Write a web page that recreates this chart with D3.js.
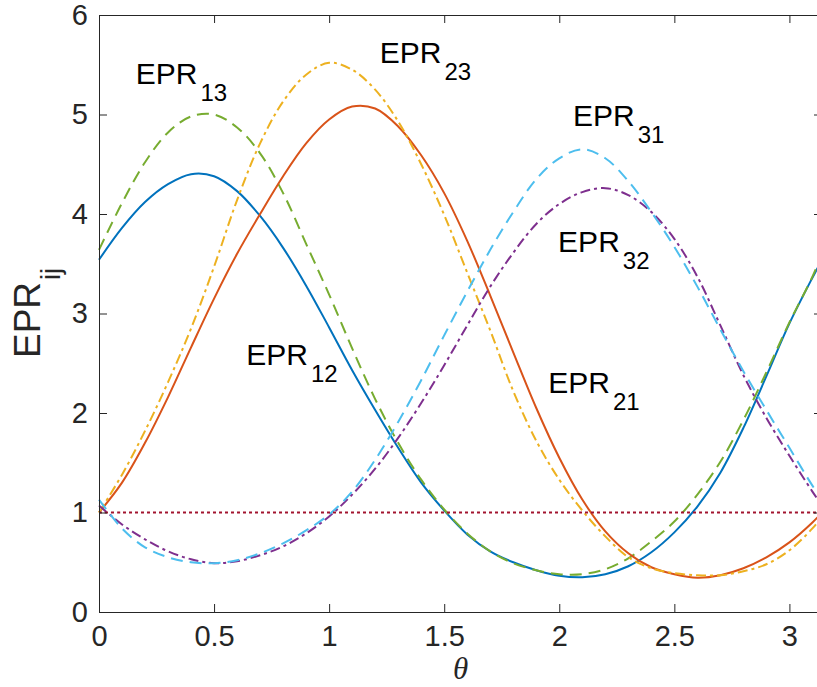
<!DOCTYPE html>
<html>
<head>
<meta charset="utf-8">
<script src="https://cdn.jsdelivr.net/npm/d3@7"></script>
<style>
  html, body { margin: 0; padding: 0; background: #fff; }
  svg { display: block; }
  text { font-family: "Liberation Sans", Arial, Helvetica, sans-serif; }
</style>
</head>
<body>
<svg id="chart" width="817" height="687"></svg>
<script>
// ---- data ----
const theta = [0,0.1,0.2,0.3,0.4,0.5,0.6,0.7,0.8,0.9,1.0,1.1,1.2,1.3,1.4,1.5,1.6,1.7,1.8,1.9,2.0,2.1,2.2,2.3,2.4,2.5,2.6,2.7,2.8,2.9,3.0,3.1,3.1416];

const epr12 = [3.54,3.86,4.12,4.30,4.40,4.38,4.23,3.98,3.66,3.28,2.86,2.43,2.03,1.65,1.30,1.02,0.78,0.61,0.50,0.42,0.365,0.35,0.38,0.46,0.60,0.80,1.06,1.40,1.85,2.37,2.90,3.36,3.54];
const epr13 = [3.64,4.11,4.52,4.82,4.98,5.00,4.87,4.61,4.21,3.70,3.19,2.65,2.14,1.70,1.33,1.03,0.79,0.61,0.49,0.42,0.38,0.38,0.43,0.54,0.71,0.91,1.18,1.51,1.93,2.41,2.91,3.37,3.60];
const epr21 = [1.00,1.30,1.70,2.16,2.66,3.15,3.60,4.00,4.38,4.71,4.95,5.08,5.06,4.88,4.59,4.21,3.73,3.18,2.61,2.05,1.55,1.13,0.81,0.59,0.45,0.38,0.345,0.37,0.44,0.55,0.70,0.90,1.00];
const epr23 = [1.00,1.38,1.82,2.31,2.85,3.47,4.14,4.71,5.13,5.40,5.52,5.45,5.25,4.93,4.50,3.99,3.41,2.83,2.22,1.72,1.33,1.02,0.76,0.55,0.44,0.39,0.37,0.37,0.41,0.48,0.62,0.84,0.96];
const epr31 = [1.13,0.84,0.65,0.55,0.50,0.49,0.52,0.59,0.69,0.82,0.98,1.21,1.53,1.91,2.33,2.78,3.22,3.64,4.02,4.35,4.56,4.65,4.56,4.33,4.02,3.67,3.27,2.84,2.42,2.03,1.65,1.27,1.13];
const epr32 = [1.07,0.88,0.73,0.61,0.53,0.49,0.51,0.57,0.66,0.79,0.96,1.18,1.44,1.75,2.10,2.48,2.88,3.27,3.61,3.90,4.10,4.22,4.26,4.19,4.02,3.75,3.37,2.88,2.38,1.95,1.57,1.21,1.07];
const bound = theta.map(() => 1);

const xTicks = [0, 0.5, 1, 1.5, 2, 2.5, 3];
const yTicks = [0, 1, 2, 3, 4, 5, 6];

const seriesNames = ["EPR12","EPR13","EPR21","EPR23","EPR31","EPR32","bound"];
const seriesValues = [epr12, epr13, epr21, epr23, epr31, epr32, bound];

const labels = [
  {main: "EPR", sub: "13", x: 0.16, y: 5.31},
  {main: "EPR", sub: "23", x: 1.22, y: 5.52},
  {main: "EPR", sub: "31", x: 2.06, y: 4.88},
  {main: "EPR", sub: "32", x: 1.995, y: 3.62},
  {main: "EPR", sub: "12", x: 0.64, y: 2.48},
  {main: "EPR", sub: "21", x: 1.952, y: 2.20}
];

// ---- styles ----
const styles = {
  EPR12: {color: "#0072BD", dash: null},
  EPR13: {color: "#77AC30", dash: "12,7"},
  EPR21: {color: "#D95319", dash: null},
  EPR23: {color: "#EDB120", dash: "10,4,3,4"},
  EPR31: {color: "#4DBEEE", dash: "12,7"},
  EPR32: {color: "#7E2F8E", dash: "10,4,3,4"},
  bound: {color: "#A2142F", dash: "3,3"}
};
const drawOrder = ["EPR12","EPR13","EPR21","EPR23","EPR32","EPR31","bound"];

// ---- layout ----
const L = 99, R = 822, T = 15, B = 612;
const svg = d3.select("#chart");
const x = d3.scaleLinear().domain([0, 3.1416]).range([L, R]);
const y = d3.scaleLinear().domain([0, 6]).range([B, T]);
const axisColor = "#262626";

// lines
const line = d3.line()
  .x((d, i) => x(theta[i]))
  .y(d => y(d))
  .curve(d3.curveCatmullRom.alpha(0.5));

const g = svg.append("g");
drawOrder.forEach(name => {
  const vals = seriesValues[seriesNames.indexOf(name)];
  const st = styles[name];
  g.append("path")
    .datum(vals)
    .attr("d", line)
    .attr("fill", "none")
    .attr("stroke", st.color)
    .attr("stroke-width", name === "bound" ? 2.2 : 2)
    .attr("stroke-dasharray", st.dash)
    .attr("stroke-linejoin", "round");
});

// axes
function styleAxis(sel) {
  sel.selectAll(".domain").attr("stroke", axisColor).attr("stroke-width", 1);
  sel.selectAll(".tick line").attr("stroke", axisColor).attr("stroke-width", 1);
  sel.selectAll(".tick text").attr("fill", axisColor)
    .style("font-family", '"Liberation Sans", Arial, Helvetica, sans-serif')
    .style("font-size", "29px");
}
const xAxis = svg.append("g").attr("transform", `translate(0,${B})`)
  .call(d3.axisBottom(x).tickValues(xTicks).tickFormat(d3.format("")).tickSizeInner(-8).tickSizeOuter(0).tickPadding(13));
styleAxis(xAxis);
const xAxisTop = svg.append("g").attr("transform", `translate(0,${T})`)
  .call(d3.axisTop(x).tickValues(xTicks).tickFormat("").tickSizeInner(-8).tickSizeOuter(0));
styleAxis(xAxisTop);
const yAxis = svg.append("g").attr("transform", `translate(${L},0)`)
  .call(d3.axisLeft(y).tickValues(yTicks).tickFormat(d3.format("d")).tickSizeInner(-8).tickSizeOuter(0).tickPadding(11));
styleAxis(yAxis);
const yAxisRight = svg.append("g").attr("transform", `translate(${R},0)`)
  .call(d3.axisRight(y).tickValues(yTicks).tickFormat("").tickSizeInner(-8).tickSizeOuter(0));
styleAxis(yAxisRight);

// curve labels
labels.forEach(lb => {
  const t = svg.append("text")
    .attr("x", x(lb.x)).attr("y", y(lb.y))
    .attr("fill", "#000")
    .style("font-size", "30px");
  t.append("tspan").text(lb.main);
  t.append("tspan").attr("dx", 3).attr("dy", 17).style("font-size", "24px").text(lb.sub);
});

// axis titles
svg.append("text")
  .attr("x", (L + R) / 2).attr("y", 679)
  .attr("text-anchor", "middle")
  .attr("fill", axisColor)
  .style("font-family", '"Liberation Serif", "Times New Roman", serif')
  .style("font-style", "italic")
  .style("font-size", "31px")
  .text("θ");

const yl = svg.append("text")
  .attr("transform", "translate(40,358) rotate(-90)")
  .attr("fill", axisColor)
  .style("font-size", "37px");
yl.append("tspan").text("EPR");
yl.append("tspan").attr("dx", 2).attr("dy", 20).style("font-size", "27px").text("ij");
</script>
</body>
</html>
